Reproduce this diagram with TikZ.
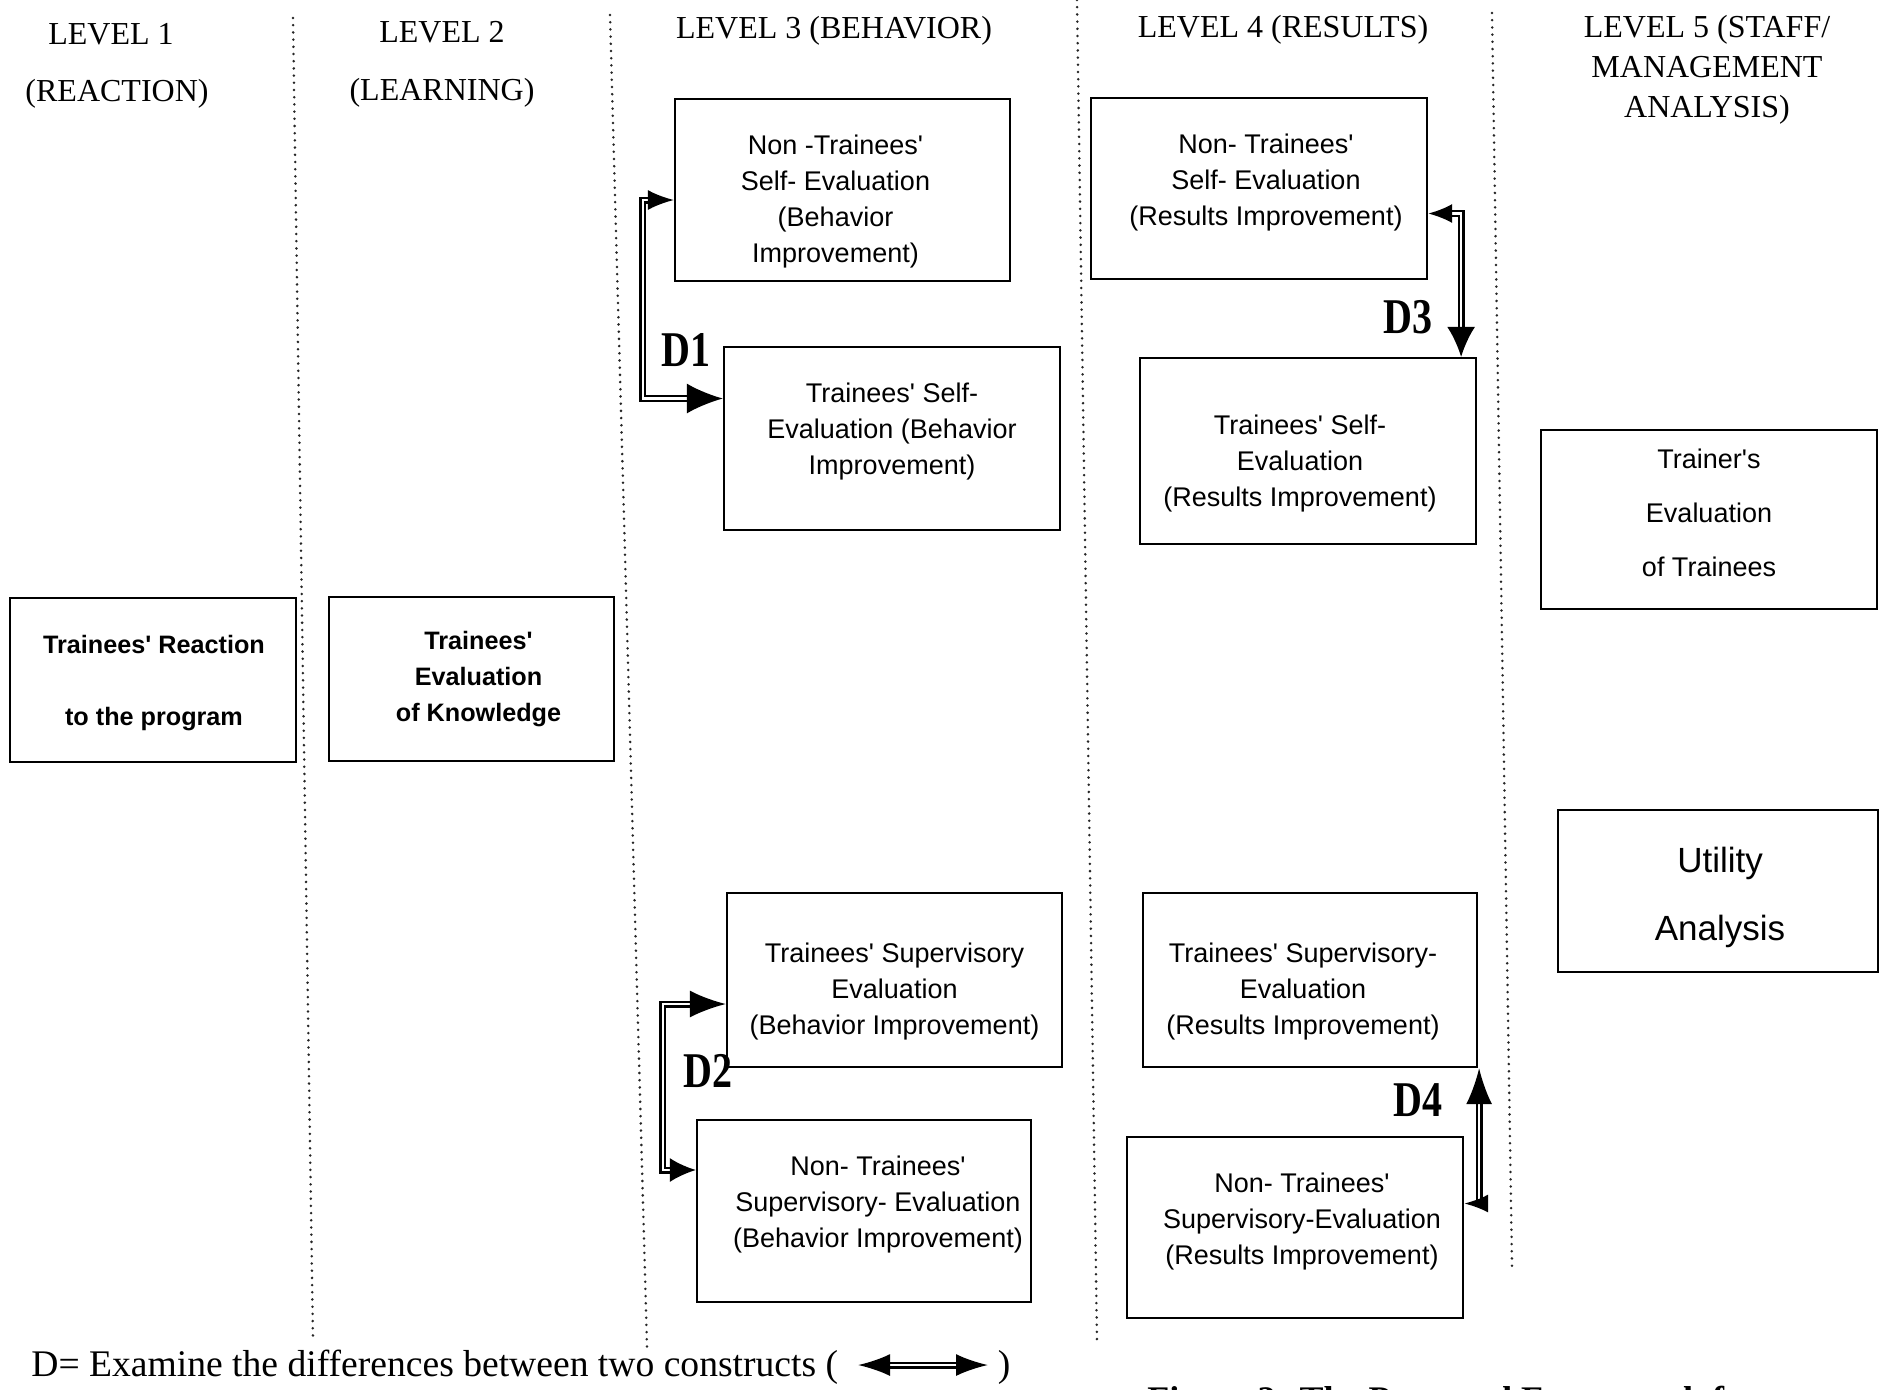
\documentclass[tikz,border=0pt]{standalone}
\usepackage{fontspec}
\setmainfont{Liberation Serif}
\newfontfamily\boxfont{Liberation Sans}
\usetikzlibrary{arrows.meta,calc}
\begin{document}
\begin{tikzpicture}[x=0.5pt,y=-0.5pt,
  box/.style={draw, line width=1.1pt, inner sep=0pt},
  txt/.style={align=center, inner sep=0pt, font=\boxfont\fontsize{13.5}{18}\selectfont},
  boldtxt/.style={txt, font=\boxfont\bfseries\fontsize{12.6}{18}\selectfont},
  hdr/.style={align=center, inner sep=0pt, font=\fontsize{16}{20}\selectfont},
  dlab/.style={inner sep=0pt, font=\bfseries\fontsize{25}{25}\selectfont},
  dbl/.style={draw, line width=1.2pt, double, double distance=1.1pt},
  sep/.style={line width=1.4pt, line cap=round, dash pattern=on 0pt off 3.6pt, black!85}
]
\useasboundingbox (0,0) rectangle (1888,1389);

% separators
\draw[sep] (293,18) -- (313,1342);
\draw[sep] (610,15) -- (647,1348);
\draw[sep] (1077,0) -- (1097,1342);
\draw[sep] (1492,13) -- (1512,1267);

% headers
\node[hdr] (h1a) at (111,34) {LEVEL 1};
\node[hdr] (h1b) at (117,94) {(REACTION)};
\node[hdr] (h2a) at (442,32) {LEVEL 2};
\node[hdr] (h2b) at (442,93) {(LEARNING)};
\node[hdr] (h3) at (834,31) {LEVEL 3 (BEHAVIOR)};
\node[hdr] (h4) at (1283,30) {LEVEL 4 (RESULTS)};
\node[hdr] (h5) at (1707,70) {LEVEL 5 (STAFF/\\MANAGEMENT\\ANALYSIS)};

% level 1 and 2
\node[box, minimum width={0.5*286pt}, minimum height={0.5*164pt}] (l1) at (153,680) {};
\node[boldtxt] (l1t) at ($(l1)+(1,3)$) {Trainees' Reaction\\[18pt]to the program};
\node[box, minimum width={0.5*285pt}, minimum height={0.5*164pt}] (l2) at (471.5,679) {};
\node[boldtxt] (l2t) at ($(l2)+(7,0)$) {Trainees'\\Evaluation\\of Knowledge};

% level 3
\node[box, minimum width={0.5*335pt}, minimum height={0.5*182pt}] (ntsb) at (842.5,190) {};
\node[txt] (ntsbt) at ($(ntsb)+(-7,12)$) {Non -Trainees'\\Self- Evaluation\\(Behavior\\Improvement)};
\node[box, minimum width={0.5*336pt}, minimum height={0.5*183pt}] (tsb) at (892,438.5) {};
\node[txt] (tsbt) at ($(tsb)+(0,-7)$) {Trainees' Self-\\Evaluation (Behavior\\Improvement)};
\node[box, minimum width={0.5*335pt}, minimum height={0.5*174pt}] (tsvb) at (894.5,980) {};
\node[txt] (tsvbt) at ($(tsvb)+(0,11)$) {Trainees' Supervisory\\Evaluation\\(Behavior Improvement)};
\node[box, minimum width={0.5*334pt}, minimum height={0.5*182pt}] (ntsvb) at (864,1211) {};
\node[txt] (ntsvbt) at ($(ntsvb)+(14,-7)$) {Non- Trainees'\\Supervisory- Evaluation\\(Behavior Improvement)};

% level 4
\node[box, minimum width={0.5*336pt}, minimum height={0.5*181pt}] (ntsr) at (1259,188.5) {};
\node[txt] (ntsrt) at ($(ntsr)+(7,-6)$) {Non- Trainees'\\Self- Evaluation\\(Results Improvement)};
\node[box, minimum width={0.5*336pt}, minimum height={0.5*186pt}] (tsr) at (1308,451) {};
\node[txt] (tsrt) at ($(tsr)+(-8,13)$) {Trainees' Self-\\Evaluation\\(Results Improvement)};
\node[box, minimum width={0.5*334pt}, minimum height={0.5*174pt}] (tsvr) at (1310,980) {};
\node[txt] (tsvrt) at ($(tsvr)+(-7,11)$) {Trainees' Supervisory-\\Evaluation\\(Results Improvement)};
\node[box, minimum width={0.5*336pt}, minimum height={0.5*181pt}] (ntsvr) at (1295,1227.5) {};
\node[txt] (ntsvrt) at ($(ntsvr)+(7,-6)$) {Non- Trainees'\\Supervisory-Evaluation\\(Results Improvement)};

% level 5
\node[box, minimum width={0.5*336pt}, minimum height={0.5*179pt}] (trainer) at (1709,519.5) {};
\node[txt, font=\boxfont\fontsize{13.5}{27}\selectfont] (trainert) at ($(trainer)+(0,-7)$)
  {Trainer's\\Evaluation\\of Trainees};
\node[box, minimum width={0.5*320pt}, minimum height={0.5*162pt}] (util) at (1718,891) {};
\node[txt, font=\boxfont\fontsize{17.5}{34}\selectfont] (utilt) at ($(util)+(2,6)$)
  {Utility\\Analysis};

% D labels
\node[dlab] (d1) at (686,350) {\scalebox{0.8}[1]{D1}};
\node[dlab] (d2) at (708,1071) {\scalebox{0.8}[1]{D2}};
\node[dlab] (d3) at (1408,317) {\scalebox{0.8}[1]{D3}};
\node[dlab] (d4) at (1418,1100) {\scalebox{0.8}[1]{D4}};

% connectors
\coordinate (d1a) at ($(ntsb.west)+(0,10)$);
\coordinate (d1b) at ($(tsb.west)+(0,-40)$);
\draw[dbl, {Latex[length=13pt,width=10pt]}-{Latex[length=18pt,width=15pt]}]
  (d1a) -- ++(-31,0) |- (d1b);

\coordinate (d2a) at ($(tsvb.west)+(0,24)$);
\coordinate (d2b) at ($(ntsvb.west)+(0,-41)$);
\draw[dbl, {Latex[length=18pt,width=13.5pt]}-{Latex[length=13pt,width=12pt]}]
  (d2a) -- ++(-63,0) |- (d2b);

\coordinate (d3a) at ($(ntsr.east)+(0,25)$);
\coordinate (d3b) at ($(tsr.north east)+(-16,0)$);
\draw[dbl, {Latex[length=12pt,width=9.5pt]}-{Latex[length=15pt,width=14pt]}]
  (d3a) -| (d3b);

\coordinate (d4a) at ($(ntsvr.east)+(0,-24)$);
\coordinate (d4b) at ($(tsvr.south east)+(1,0)$);
\draw[dbl, {Latex[length=12pt,width=9pt]}-{Latex[length=18pt,width=13pt]}]
  (d4a) -| (d4b);

% legend
\node[anchor=west, inner sep=0pt, font=\fontsize{18.8}{20}\selectfont] (leg) at (31,1367)
  {D= Examine the differences between two constructs (};
\coordinate (la) at (858,1365);
\coordinate (lb) at (988,1365);
\draw[dbl, {Latex[length=16pt,width=11pt]}-{Latex[length=16pt,width=11pt]}] (la) -- (lb);
\node[inner sep=0pt, font=\fontsize{18.8}{20}\selectfont] (legr) at (1004,1367) {)};

% partially visible caption (cut by the page edge, as in the source)
\node[anchor=north west, inner sep=0pt, font=\bfseries\fontsize{18}{20}\selectfont] (cap) at (1147,1386)
  {Figure 2: The Proposed Framework for};
\end{tikzpicture}
\end{document}
